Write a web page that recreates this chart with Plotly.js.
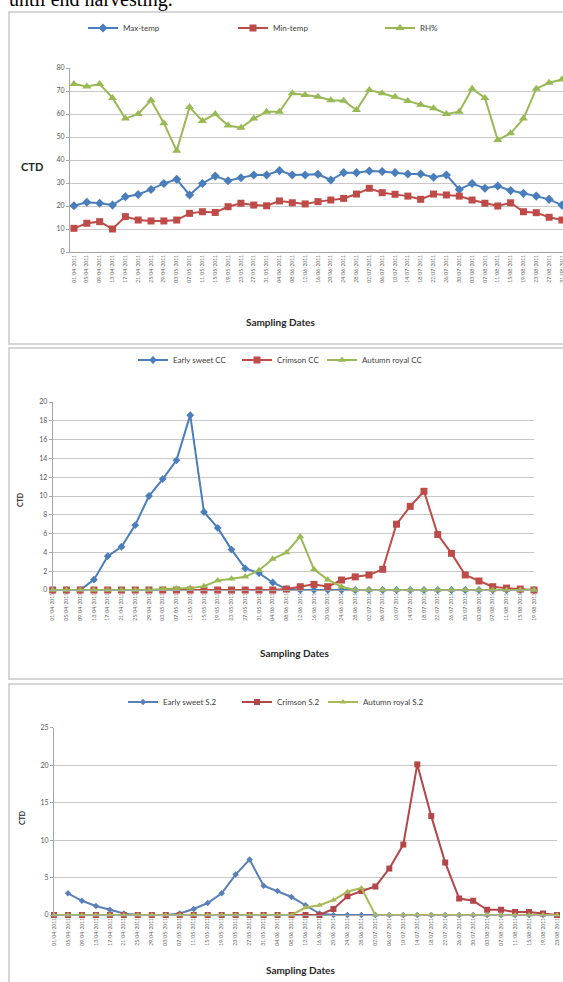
<!DOCTYPE html>
<html><head><meta charset="utf-8">
<script src="https://cdn.plot.ly/plotly-3.0.1.min.js"></script>
<style>html,body{margin:0;padding:0;background:#fff;}#chart{width:563px;height:982px;}</style>
</head><body><div id="chart"></div>
<script>
// ---- Panel 1: climate ----
const datesClimate = ["01/04/2011","05/04/2011","09/04/2011","13/04/2011","17/04/2011","21/04/2011","25/04/2011","29/04/2011",
"03/05/2011","07/05/2011","11/05/2011","15/05/2011","19/05/2011","23/05/2011","27/05/2011","31/05/2011",
"04/06/2011","08/06/2011","12/06/2011","16/06/2011","20/06/2011","24/06/2011","28/06/2011",
"02/07/2011","06/07/2011","10/07/2011","14/07/2011","18/07/2011","22/07/2011","26/07/2011","30/07/2011",
"03/08/2011","07/08/2011","11/08/2011","15/08/2011","19/08/2011","23/08/2011","27/08/2011","31/08/2011"];
const maxTemp = [20.1,21.6,21.2,20.4,24,25,27.2,29.8,31.6,24.8,29.8,33,31,32.3,33.5,33.5,35.4,33.5,33.5,33.8,31.3,34.5,34.5,35.2,35,34.5,33.9,33.9,32.5,33.5,27.2,29.8,27.7,28.7,26.7,25.5,24.3,22.9,20.4];
const minTemp = [10.3,12.5,13.2,10,15.4,13.9,13.5,13.5,13.9,16.8,17.5,17.2,19.7,21.2,20.4,20.1,22.2,21.4,20.9,21.9,22.6,23.3,25.2,27.7,25.8,25.1,24.3,22.9,25.2,24.8,24.3,22.6,21.2,20,21.4,17.5,17.1,15.1,13.9];
const rhPct = [73,72,73,67,58,60,66,56,44,63,57,60,55,54,58,61,61,69,68.3,67.5,66,65.8,61.7,70.4,69,67.5,65.7,64,62.5,60,61,71,67,48.7,51.6,58,71,73.6,75];

// ---- Panel 2: CC ----
const datesCC = ["01/04/2011","05/04/2011","09/04/2011","13/04/2011","17/04/2011","21/04/2011","25/04/2011","29/04/2011",
"03/05/2011","07/05/2011","11/05/2011","15/05/2011","19/05/2011","23/05/2011","27/05/2011","31/05/2011",
"04/06/2011","08/06/2011","12/06/2011","16/06/2011","20/06/2011","24/06/2011","28/06/2011",
"02/07/2011","06/07/2011","10/07/2011","14/07/2011","18/07/2011","22/07/2011","26/07/2011","30/07/2011",
"03/08/2011","07/08/2011","11/08/2011","15/08/2011","19/08/2011"];
const earlySweetCC = [0,0,0,1.1,3.6,4.6,6.9,10,11.8,13.8,18.6,8.3,6.6,4.3,2.3,1.8,0.8,0.1,0,0,0,0,0,0,0,0,0,0,0,0,0,0,0,0,0,0];
const crimsonCC = [0,0,0,0,0,0,0,0,0,0,0,0,0,0,0,0,0,0.1,0.35,0.6,0.35,1.06,1.4,1.6,2.2,7,8.9,10.5,5.9,3.9,1.6,0.96,0.35,0.2,0.1,0];
const autumnRoyalCC = [0,0,0,0,0,0,0,0,0.1,0.15,0.2,0.4,1.0,1.2,1.4,2.1,3.3,4.0,5.7,2.2,1.1,0.35,0,0,0,0,0,0,0,0,0,0,0,0,0,0];

// ---- Panel 3: S.2 ----
const datesS2 = ["01/04/2011","05/04/2011","09/04/2011","13/04/2011","17/04/2011","21/04/2011","25/04/2011","29/04/2011",
"03/05/2011","07/05/2011","11/05/2011","15/05/2011","19/05/2011","23/05/2011","27/05/2011","31/05/2011",
"04/06/2011","08/06/2011","12/06/2011","16/06/2011","20/06/2011","24/06/2011","28/06/2011",
"02/07/2011","06/07/2011","10/07/2011","14/07/2011","18/07/2011","22/07/2011","26/07/2011","30/07/2011",
"03/08/2011","07/08/2011","11/08/2011","15/08/2011","19/08/2011","23/08/2011"];
const earlySweetS2 = [null,2.9,1.9,1.2,0.7,0.2,0,0,0,0.2,0.8,1.6,2.9,5.4,7.4,3.9,3.2,2.4,1.3,0.2,0,0,0,0,0,0,0,0,0,0,0,0,0,0,0,0,0];
const crimsonS2 = [0,0,0,0,0,0,0,0,0,0,0,0,0,0,0,0,0,0,0,0,0.8,2.5,3.2,3.8,6.2,9.4,20.1,13.2,7.0,2.2,1.9,0.7,0.7,0.4,0.4,0.2,0];
const autumnRoyalS2 = [0,0,0,0,0,0,0,0,0,0,0,0,0,0,0,0,0,0,1.0,1.3,2.0,3.1,3.6,0,0,0,0,0,0,0,0,0,0,0,0,0,0];

const W = 563, H = 982;
const px = x => x / W;
const py = y => 1 - y / H;

const BLUE = '#4A7EBB', RED = '#BE4B48', GREEN = '#98B954';
const BLUE3 = '#5A80B8', RED3 = '#B24649', GREEN3 = '#A9B95A';

function tr(x, y, name, ax, color, symbol, size, leg) {
  return {x: x, y: y, name: name, type: 'scatter', mode: 'lines+markers',
    xaxis: 'x' + ax, yaxis: 'y' + ax, legend: leg, cliponaxis: false,
    line: {color: color, width: 2}, marker: {color: color, symbol: symbol, size: size},
    connectgaps: false, hoverinfo: 'skip'};
}

const data = [
  tr(datesClimate, maxTemp, 'Max-temp', '', BLUE, 'diamond', 7, 'legend'),
  tr(datesClimate, minTemp, 'Min-temp', '', RED, 'square', 7, 'legend2'),
  tr(datesClimate, rhPct, 'RH%', '', GREEN, 'triangle-up', 8, 'legend3'),
  tr(datesCC, earlySweetCC, 'Early sweet CC', '2', BLUE, 'diamond', 6, 'legend4'),
  tr(datesCC, crimsonCC, 'Crimson CC', '2', RED, 'square', 7, 'legend5'),
  tr(datesCC, autumnRoyalCC, 'Autumn royal CC', '2', GREEN, 'triangle-up', 7, 'legend6'),
  tr(datesS2, earlySweetS2, 'Early sweet S.2', '3', BLUE3, 'diamond', 5, 'legend7'),
  tr(datesS2, crimsonS2, 'Crimson S.2', '3', RED3, 'square', 6, 'legend8'),
  tr(datesS2, autumnRoyalS2, 'Autumn royal S.2', '3', GREEN3, 'triangle-up', 6, 'legend9')
];

const FONT = 'Lato, "Open Sans", sans-serif';
function leg(xText, yc) {
  return {orientation: 'h', x: px(xText - 40), y: py(yc), xanchor: 'left', yanchor: 'middle',
    font: {family: FONT, size: 8, color: '#404040'}, bgcolor: 'rgba(0,0,0,0)', borderwidth: 0};
}
function xax(d0, d1, r0, r1, anchor) {
  return {domain: [px(d0), px(d1)], range: [r0, r1], type: 'category', anchor: anchor,
    showgrid: false, zeroline: false, showline: true, linecolor: '#A6A6A6', linewidth: 1,
    ticks: '', tickangle: -90, tickfont: {family: FONT, size: 5, color: '#595959'}, fixedrange: true};
}
function yax(top, bot, r1, dt, anchor) {
  return {domain: [py(bot), py(top)], range: [0, r1], dtick: dt, anchor: anchor,
    showgrid: true, gridcolor: '#C8C8C8', gridwidth: 1, zeroline: false,
    showline: true, linecolor: '#A6A6A6', linewidth: 1, ticks: 'outside', ticklen: 3, tickcolor: '#A6A6A6',
    tickfont: {family: FONT, size: 7, color: '#595959'}, fixedrange: true};
}
function ann(text, x, y, size, angle, extra) {
  return Object.assign({text: text, x: px(x), y: py(y), xref: 'paper', yref: 'paper', showarrow: false,
    xanchor: 'center', yanchor: 'middle', textangle: angle || 0,
    font: {family: FONT, size: size, color: '#262626', weight: 'bold'}}, extra || {});
}
function frame(x0, y0, y1) {
  return {type: 'rect', xref: 'paper', yref: 'paper', x0: px(x0), x1: 1.02, y0: py(y1), y1: py(y0),
    line: {color: '#D6D6D6', width: 2}, fillcolor: 'rgba(0,0,0,0)', layer: 'below'};
}

const layout = {
  width: W, height: H, margin: {l: 0, r: 0, t: 0, b: 0},
  paper_bgcolor: '#fff', plot_bgcolor: 'rgba(0,0,0,0)', showlegend: true,
  xaxis: xax(70, 563, -0.31, 38.08, 'y'),
  yaxis: yax(68, 252, 80, 10, 'x'),
  xaxis2: xax(52.7, 534, 0, 35, 'y2'),
  yaxis2: yax(402, 590, 20, 2, 'x2'),
  xaxis3: xax(54, 557, 0, 36, 'y3'),
  yaxis3: yax(727.7, 915, 25, 5, 'x3'),
  legend: leg(123, 28), legend2: leg(273, 28), legend3: leg(420, 28),
  legend4: leg(173, 360), legend5: leg(277, 360), legend6: leg(362, 360),
  legend7: leg(163, 702), legend8: leg(277, 702), legend9: leg(363, 702),
  shapes: [frame(9, 12, 344), frame(9, 348, 679), frame(9, 684, 995)],
  annotations: [
    {text: 'until end harvesting.', x: px(8), y: py(12), xref: 'paper', yref: 'paper', showarrow: false,
     xanchor: 'left', yanchor: 'bottom', borderpad: 0,
     font: {family: '"Liberation Serif", "Times New Roman", serif', size: 20, color: '#000'}},
    ann('CTD', 32, 167, 11, 0),
    ann('Sampling Dates', 280, 322, 10, 0),
    ann('CTD', 20, 500, 7, -90),
    ann('Sampling Dates', 294, 653, 10, 0),
    ann('CTD', 22, 818, 7, -90),
    ann('Sampling Dates', 300, 970, 10, 0)
  ]
};

Plotly.newPlot('chart', data, layout, {displayModeBar: false, staticPlot: true});
</script>
</body></html>
